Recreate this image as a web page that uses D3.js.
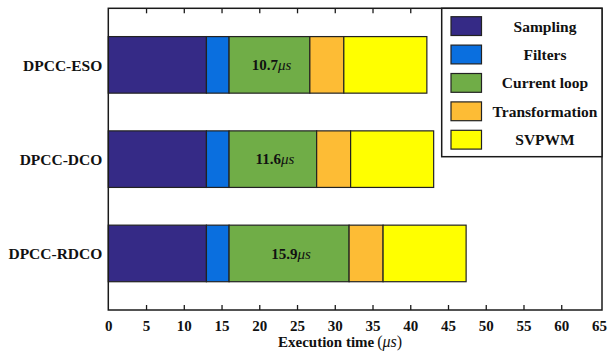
<!DOCTYPE html>
<html>
<head>
  <title>Execution time</title>
  <style type="text/css">
    body { margin: 0; background: #fff; }
    svg text { font-family: 'Liberation Serif', 'Times New Roman', serif; font-weight: bold; fill: #111; }
    .frame { fill: none; stroke: #1a1a1a; stroke-width: 1.5px; }
    .seg { stroke: #222; stroke-width: 1.2px; }
    .axis path { display: none; }
    .axis line { stroke: #1a1a1a; stroke-width: 1.3px; }
  </style>
</head>
<body>
  <div id="chart"></div>
  <script src="https://cdnjs.cloudflare.com/ajax/libs/d3/7.8.5/d3.min.js"></script>
  <script type="text/javascript">
  // data
  var categories = ['DPCC-ESO', 'DPCC-DCO', 'DPCC-RDCO'];
  var segNames = ['Sampling', 'Filters', 'Current loop', 'Transformation', 'SVPWM'];
  var sampling = [13, 13, 13];
  var filters = [3, 3, 3];
  var currentLoop = [10.7, 11.6, 15.9];
  var transformation = [4.5, 4.5, 4.5];
  var svpwm = [11, 11, 11];
  var segColors = ['#352a86', '#0a6fdf', '#70ad47', '#fdbc35', '#ffff00'];
  var xTicks = [0, 5, 10, 15, 20, 25, 30, 35, 40, 45, 50, 55, 60, 65];

  var cfg = { w: 612, h: 358, left: 108.3, right: 602, top: 8.3, bottom: 310 };

  var rows = categories.map(function(c, i) {
    return {
      cat: c,
      'Sampling': sampling[i],
      'Filters': filters[i],
      'Current loop': currentLoop[i],
      'Transformation': transformation[i],
      'SVPWM': svpwm[i]
    };
  });

  var svg = d3.select('#chart').append('svg')
    .attr('width', cfg.w)
    .attr('height', cfg.h);

  var xSc = d3.scaleLinear().domain([0, 65.4]).range([cfg.left, cfg.right]);
  var ySc = d3.scaleBand().domain(categories)
    .range([cfg.top, cfg.bottom])
    .paddingInner(0.4)
    .paddingOuter(0.3);

  var stack = d3.stack().keys(segNames)(rows);

  var layers = svg.selectAll('g.layer')
    .data(stack)
    .enter()
    .append('g')
    .attr('class', 'layer')
    .style('fill', function(d, i) { return segColors[i] });

  layers.selectAll('rect')
    .data(function(d) { return d })
    .enter()
    .append('rect')
    .attr('class', 'seg')
    .attr('x', function(d) { return xSc(d[0]) })
    .attr('width', function(d) { return xSc(d[1]) - xSc(d[0]) })
    .attr('y', function(d) { return ySc(d.data.cat) })
    .attr('height', ySc.bandwidth());

  // value labels on the current loop segment
  var loopLayer = stack[2];
  var vl = svg.selectAll('text.val')
    .data(loopLayer)
    .enter()
    .append('text')
    .attr('class', 'val')
    .attr('x', function(d) { return (xSc(d[0]) + xSc(d[1])) / 2 + 2 })
    .attr('y', function(d) { return ySc(d.data.cat) + ySc.bandwidth() / 2 })
    .attr('dy', '0.35em')
    .attr('text-anchor', 'middle')
    .style('font-size', '15px');
  vl.append('tspan').text(function(d) { return (d[1] - d[0]).toFixed(1) });
  vl.append('tspan').text('\u03bcs')
    .style('font-style', 'italic')
    .style('font-weight', 'normal');

  // category labels
  svg.selectAll('text.cat')
    .data(categories)
    .enter()
    .append('text')
    .attr('class', 'cat')
    .attr('x', cfg.left - 6)
    .attr('y', function(d) { return ySc(d) + ySc.bandwidth() / 2 })
    .attr('dy', '0.38em')
    .attr('text-anchor', 'end')
    .style('font-size', '15.5px')
    .text(function(d) { return d });

  // axes: inward ticks, mirrored on top
  var xAxis = d3.axisBottom(xSc).tickValues(xTicks).tickSize(-5).tickSizeOuter(0).tickPadding(10);
  var gx = svg.append('g')
    .attr('class', 'axis')
    .attr('transform', 'translate(0,' + cfg.bottom + ')')
    .call(xAxis);
  gx.selectAll('text')
    .style('font-size', '15px')
    .style('font-family', "'Liberation Serif', serif")
    .attr('fill', '#111');
  gx.selectAll('.tick').filter(function(d) { return d === 0 || d === 65 }).select('line').remove();

  var xTop = d3.axisTop(xSc).tickValues(xTicks).tickSize(-5).tickSizeOuter(0).tickFormat('');
  var gt = svg.append('g')
    .attr('class', 'axis')
    .attr('transform', 'translate(0,' + cfg.top + ')')
    .call(xTop);
  gt.selectAll('.tick').filter(function(d) { return d === 0 || d === 65 }).remove();

  svg.append('rect')
    .attr('class', 'frame')
    .attr('x', cfg.left)
    .attr('y', cfg.top)
    .attr('width', cfg.right - cfg.left)
    .attr('height', cfg.bottom - cfg.top);

  // axis title
  var title = svg.append('text')
    .attr('x', 278)
    .attr('y', 346.5)
    .attr('text-anchor', 'start')
    .style('font-size', '15px');
  title.append('tspan').text('Execution time');
  title.append('tspan').text('(').attr('dx', 3).style('font-weight', 'normal').style('font-size', '16px');
  title.append('tspan').text('\u03bcs').style('font-weight', 'normal').style('font-style', 'italic').style('font-size', '16px');
  title.append('tspan').text(')').style('font-weight', 'normal').style('font-size', '16px');

  // legend
  var lg = { x: 441.7, y: cfg.top, w: cfg.right - 441.7, h: 148.4, step: 28.4 };
  var legend = svg.append('g');
  legend.append('rect')
    .attr('x', lg.x)
    .attr('y', lg.y)
    .attr('width', lg.w)
    .attr('height', lg.h)
    .style('fill', '#fff')
    .style('stroke', '#1a1a1a')
    .style('stroke-width', '1.5px');

  var items = legend.selectAll('g.item')
    .data(segNames)
    .enter()
    .append('g')
    .attr('class', 'item')
    .attr('transform', function(d, i) { return 'translate(0,' + (lg.y + 8.4 + i * lg.step) + ')' });

  items.append('rect')
    .attr('class', 'seg')
    .attr('x', 451)
    .attr('y', 0)
    .attr('width', 30.5)
    .attr('height', 18.8)
    .style('fill', function(d, i) { return segColors[i] });

  items.append('text')
    .attr('x', 545)
    .attr('y', 9.4)
    .attr('dy', '0.36em')
    .attr('text-anchor', 'middle')
    .style('font-size', '15.5px')
    .text(function(d) { return d });
  </script>
</body>
</html>
